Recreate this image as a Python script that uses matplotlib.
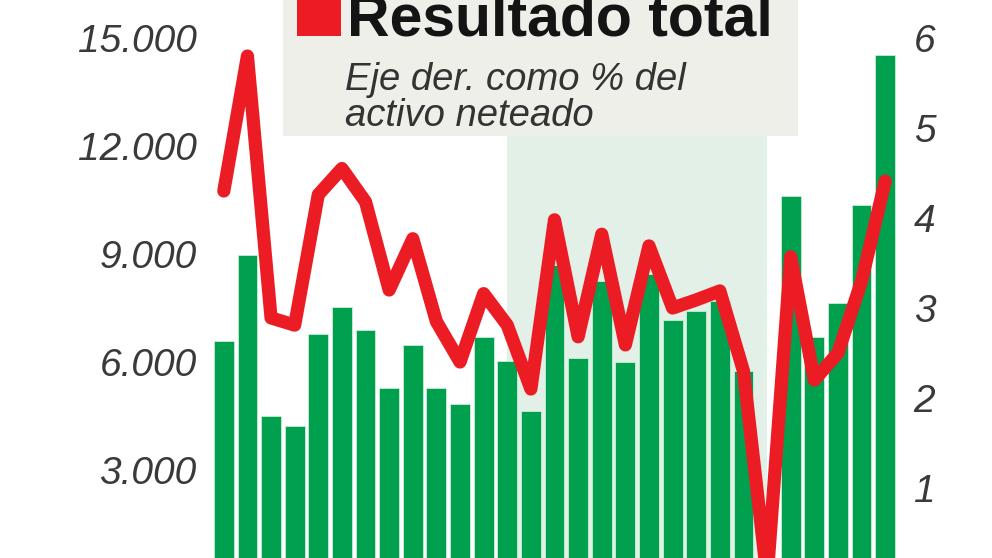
import matplotlib
matplotlib.use("Agg")
import matplotlib.pyplot as plt
from matplotlib.patches import Rectangle
from matplotlib.ticker import FixedLocator

plt.rcParams['font.family'] = ['Liberation Sans', 'DejaVu Sans']

# ---- data ----
resultado = [6580, 8960, 4490, 4230, 6790, 7540, 6900, 5280, 6480, 5280,
             4830, 6700, 6040, 4650, 8700, 6100, 8250, 5990, 8450, 7170,
             7430, 7700, 5760, -600, 10620, 6690, 7650, 10350, 14520]
pct_activo = [4.30, 5.80, 2.89, 2.81, 4.26, 4.55, 4.18, 3.20, 3.77, 2.85,
              2.40, 3.16, 2.81, 2.10, 3.98, 2.68, 3.82, 2.59, 3.69, 3.00,
              3.09, 3.19, 2.30, 0.0, 3.57, 2.20, 2.50, 3.30, 4.41]
left_ticks = [3000, 6000, 9000, 12000, 15000]
left_labels = ['3.000', '6.000', '9.000', '12.000', '15.000']
right_ticks = [1, 2, 3, 4, 5, 6]
right_labels = ['1', '2', '3', '4', '5', '6']
shade_span = (12.0, 23.0)
title = 'Resultado total'
subtitle1 = 'Eje der. como % del'
subtitle2 = 'activo neteado'

W, H = 992, 558
fig = plt.figure(figsize=(W / 100, H / 100), dpi=100)
fig.patch.set_facecolor('white')

ax = fig.add_axes([212 / W, 0, (897 - 212) / W, 1])
ax.set_facecolor('white')
n = len(resultado)
x = list(range(n))
ax.set_xlim(-0.5, n - 0.5)
ylo, yhi = 556, 16056
ax.set_ylim(ylo, yhi)

ax.axvspan(*shade_span, color='#e2f0e7', zorder=0, lw=0)
ax.bar(x, resultado, width=0.84, color='#00a04f', edgecolor='#c9efd7',
       linewidth=0.6, zorder=2)

ax2 = ax.twinx()
ax2.set_ylim(ylo / 2500, yhi / 2500)
ax2.plot(x, pct_activo, color='#ec1c24', lw=9.5, solid_joinstyle='round',
         solid_capstyle='round', zorder=3)

for a in (ax, ax2):
    for s in a.spines.values():
        s.set_visible(False)
    a.set_xticks([])

ax.yaxis.set_major_locator(FixedLocator(left_ticks))
ax.set_yticklabels(left_labels)
ax.tick_params(axis='y', length=0, pad=11, labelsize=28, labelcolor='#3a3a3a')
for t in ax.get_yticklabels():
    t.set_fontstyle('italic')

ax2.yaxis.set_major_locator(FixedLocator(right_ticks))
ax2.set_yticklabels(right_labels)
ax2.tick_params(axis='y', length=0, pad=12, labelsize=28, labelcolor='#3a3a3a')
for t in ax2.get_yticklabels():
    t.set_fontstyle('italic')

# legend box
fig.patches.append(Rectangle((283 / W, 1 - 136 / H), (798 - 283) / W, 140 / H,
                             transform=fig.transFigure, facecolor='#efefea',
                             edgecolor='none', zorder=5))
fig.patches.append(Rectangle((297 / W, 1 - 36 / H), 44 / W, 46 / H,
                             transform=fig.transFigure, facecolor='#ec1c24',
                             edgecolor='none', zorder=6))
fig.text(347 / W, 1 - 35 / H, title, fontsize=42.5, fontweight='bold',
         color='#141414', va='baseline', ha='left', zorder=7)
fig.text(345 / W, 1 - 90 / H, subtitle1, fontsize=27.5, fontstyle='italic',
         color='#333333', va='baseline', ha='left', zorder=7)
fig.text(345 / W, 1 - 126 / H, subtitle2, fontsize=27.5, fontstyle='italic',
         color='#333333', va='baseline', ha='left', zorder=7)

fig.savefig('out.png', dpi=100)
